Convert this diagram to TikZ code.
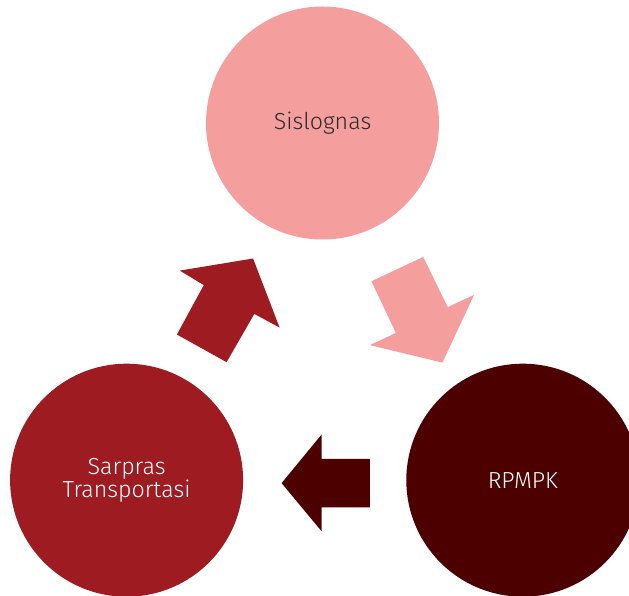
\documentclass[tikz,border=0pt]{standalone}
\usepackage{fontspec}
\setmainfont{Fira Sans}[UprightFont=* Light]
\definecolor{cpink}{HTML}{F49F9E}
\definecolor{cred}{HTML}{9E1B22}
\definecolor{cdark}{HTML}{4C0000}
\definecolor{ctext}{HTML}{2B2B2B}
\begin{document}
\begin{tikzpicture}[x=1bp,y=-1bp,
  blob/.style={circle,minimum size=233bp,inner sep=0pt,align=center,font=\fontsize{23.3}{21.5}\selectfont}]
\useasboundingbox (0,0) rectangle (629,596);
\clip (0,0) rectangle (629,596);
\node[blob,fill=cpink,text=ctext] (sis) at (322.5,123) {Sislognas};
\node[blob,fill=cred,text=white] (sar) at (126.6,480.2) {Sarpras\\Transportasi};
\node[blob,fill=cdark,text=white] (rpm) at (522.8,480.2) {RPMPK};
% arrow Sarpras -> Sislognas
\fill[cred] (179.7,270.6) -- (253.1,258.5) -- (279.6,327.6) -- (254.3,313.9) -- (226.6,362.2) -- (176.9,334.5) -- (203.8,285.1) -- cycle;
% arrow Sislognas -> RPMPK
\fill[cpink] (423.2,256.9) -- (447.7,307.1) -- (474.1,294.9) -- (442.4,362.6) -- (369.8,345.1) -- (395.9,333.0) -- (371.4,281.3) -- cycle;
% arrow RPMPK -> Sarpras
\fill[cdark] (369.8,458.8) -- (369.8,507.4) -- (321.7,507.4) -- (321.7,531.4) -- (281.6,483.1) -- (321.7,434.4) -- (321.7,458.8) -- cycle;
\end{tikzpicture}
\end{document}
